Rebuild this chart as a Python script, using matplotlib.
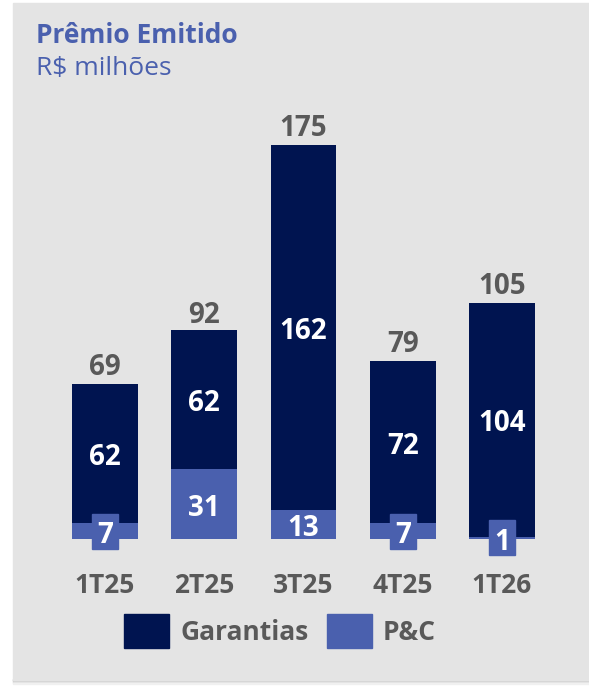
import matplotlib
matplotlib.use("Agg")
import matplotlib.pyplot as plt
from matplotlib.patches import Rectangle

categories = ["1T25", "2T25", "3T25", "4T25", "1T26"]
garantias = [62, 62, 162, 72, 104]
pc = [7, 31, 13, 7, 1]
totals = [69, 92, 175, 79, 105]

NAVY = "#001450"
BLUE = "#4a60ae"
GRAY_TXT = "#595959"
BG = "#e4e4e4"
FONT = "Open Sans"

W, H = 589, 686
fig = plt.figure(figsize=(W / 100, H / 100), dpi=100)
fig.patch.set_facecolor("white")

def px(x0, y0, w, h):
    # pixel box (from top-left) -> figure fraction
    return (x0 / W, 1 - (y0 + h) / H, w / W, h / H)

# shadow
for i, c in enumerate(["#a9a9a9", "#bdbdbd", "#d0d0d0", "#e2e2e2", "#f0f0f0"]):
    fig.patches.append(Rectangle((13 / W, 1 - (680 + i) / H), 1, 1 / H,
                                 transform=fig.transFigure, color=c, zorder=-2))
# panel
fig.patches.append(Rectangle((13 / W, 1 - 680 / H), 1, (680 - 3) / H,
                             transform=fig.transFigure, color=BG, zorder=-1))

ax = fig.add_axes(px(30.6, 539 - 427.5, 545.8, 427.5))
ax.set_zorder(5)
ax.set_facecolor("none")
ax.patch.set_alpha(0)
ax.set_xlim(-0.75, 4.75)
ax.set_ylim(0, 190)
for s in ax.spines.values():
    s.set_visible(False)
ax.set_yticks([])

x = list(range(len(categories)))
bw = 0.665
ax.bar(x, pc, width=bw, color=BLUE, zorder=2)
ax.bar(x, garantias, bottom=pc, width=bw, color=NAVY, zorder=2)

ax.set_xticks(x)
ax.set_xticklabels(categories, fontsize=19, fontweight="bold", color=GRAY_TXT,
                   family=FONT)
ax.tick_params(axis="x", length=0, pad=23.5)

box_w = 26 / 99.25
box_h = 35 / 2.25
lab = dict(ha="center", va="center", color="white", fontsize=20,
           fontweight="bold", family=FONT, zorder=4,
           textcoords="offset points", xytext=(0, -3))
for i in x:
    # P&C label
    yc = pc[i] / 2
    if pc[i] < 10:
        ax.add_patch(Rectangle((i - box_w / 2, yc - box_h / 2), box_w, box_h,
                               color=BLUE, zorder=3, clip_on=False))
    ax.annotate(str(pc[i]), (i, yc), **lab)
    # Garantias label
    ax.annotate(str(garantias[i]), (i, pc[i] + garantias[i] / 2), **lab)
    # total
    ax.annotate(str(totals[i]), (i, totals[i]), xytext=(0, 12),
                textcoords="offset points", ha="center", va="center",
                color=GRAY_TXT, fontsize=20, fontweight="bold", family=FONT)

# title
fig.text(36 / W, 1 - 43 / H, "Prêmio Emitido", color=BLUE, fontsize=19,
         fontweight="bold", family=FONT, va="baseline", ha="left")
fig.text(36 / W, 1 - 75 / H, "R$ milhões", color=BLUE, fontsize=19,
         family=FONT, va="baseline", ha="left")

# legend
fig.patches.append(Rectangle((124 / W, 1 - 648 / H), 45 / W, 34 / H,
                             transform=fig.transFigure, color=NAVY, zorder=2))
fig.text(180 / W, 1 - 632 / H, "Garantias", color=GRAY_TXT, fontsize=19,
         fontweight="bold", family=FONT, va="center", ha="left")
fig.patches.append(Rectangle((327 / W, 1 - 648 / H), 45 / W, 34 / H,
                             transform=fig.transFigure, color=BLUE, zorder=2))
fig.text(383 / W, 1 - 632 / H, "P&C", color=GRAY_TXT, fontsize=19,
         fontweight="bold", family=FONT, va="center", ha="left")

fig.savefig("out.png", dpi=100, facecolor=fig.get_facecolor())
